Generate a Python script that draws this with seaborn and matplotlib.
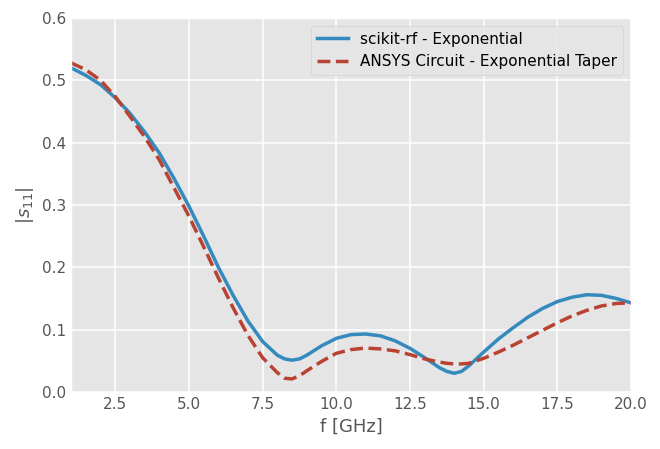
import pandas as pd
import matplotlib.pyplot as plt
import seaborn as sns

# frequency points in GHz
FREQ = [1.0, 1.5, 2.0, 2.5, 3.0, 3.5, 4.0, 4.5, 5.0, 5.5, 6.0, 6.5, 7.0, 7.5,
        8.0, 8.25, 8.5, 8.75, 9.0, 9.5, 10.0, 10.5, 11.0, 11.5, 12.0, 12.5,
        13.0, 13.5, 13.75, 14.0, 14.25, 14.5, 15.0, 15.5, 16.0, 16.5, 17.0,
        17.5, 18.0, 18.5, 19.0, 19.5, 20.0]

S11_SKRF = [0.520, 0.508, 0.493, 0.472, 0.447, 0.417, 0.383, 0.342, 0.298,
            0.250, 0.200, 0.155, 0.114, 0.081, 0.059, 0.053, 0.051, 0.053,
            0.059, 0.074, 0.086, 0.092, 0.093, 0.090, 0.082, 0.070, 0.055,
            0.039, 0.033, 0.030, 0.033, 0.042, 0.064, 0.085, 0.103, 0.120,
            0.134, 0.145, 0.152, 0.156, 0.155, 0.150, 0.143]

S11_ANSYS = [0.528, 0.517, 0.500, 0.474, 0.442, 0.409, 0.372, 0.327, 0.282,
             0.233, 0.183, 0.135, 0.091, 0.055, 0.031, 0.022, 0.021, 0.026,
             0.034, 0.049, 0.062, 0.068, 0.0705, 0.069, 0.066, 0.060, 0.053,
             0.048, 0.046, 0.045, 0.045, 0.046, 0.054, 0.064, 0.075, 0.087,
             0.099, 0.111, 0.122, 0.131, 0.138, 0.142, 0.143]

LABELS = ["scikit-rf - Exponential", "ANSYS Circuit - Exponential Taper"]

plt.style.use("ggplot")
plt.rcParams["font.family"] = ["DejaVu Sans"]

df = pd.DataFrame({"f": FREQ, "skrf": S11_SKRF, "ansys": S11_ANSYS})

fig = plt.figure(figsize=(6.6, 4.49), dpi=100)
ax = fig.add_axes([0.1076, 0.127, 0.8485, 0.833])

sns.lineplot(data=df, x="f", y="skrf", ax=ax, color="#348ABD", lw=2.5,
             label=LABELS[0])
sns.lineplot(data=df, x="f", y="ansys", ax=ax, color="#B94233", lw=2.5,
             linestyle="--", dashes=(4, 2), label=LABELS[1])

ax.set_xlim(1, 20)
ax.set_ylim(0, 0.6)
ax.set_xticks([2.5, 5.0, 7.5, 10.0, 12.5, 15.0, 17.5, 20.0])
ax.set_yticks([0.0, 0.1, 0.2, 0.3, 0.4, 0.5, 0.6])
ax.tick_params(labelsize=11, colors="#555555", length=0)
ax.set_xlabel("f [GHz]", fontsize=13, color="#555555")
ax.set_ylabel(r"$|s_{11}|$", fontsize=13, color="#555555")
ax.grid(color="white", lw=1.1)

leg = ax.legend(loc="upper right", fontsize=11, facecolor="#E5E5E5",
                edgecolor="#CCCCCC", framealpha=0.8)

fig.savefig("out.png", dpi=100)
